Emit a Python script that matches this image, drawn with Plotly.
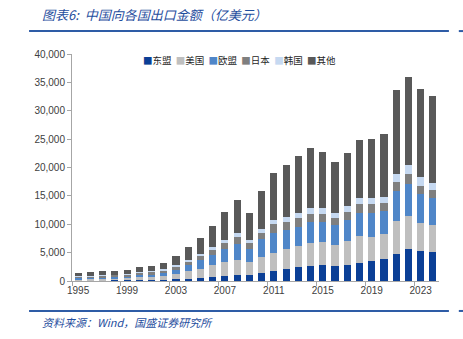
import plotly.graph_objects as go

# 中国向各国出口金额（亿美元）
years = list(range(1995, 2025))
asean = [104, 103, 127, 110, 122, 173, 184, 236, 309, 429, 554, 713, 941, 1143, 1063,
         1382, 1701, 2043, 2441, 2720, 2774, 2560, 2791, 3192, 3594, 3837, 4836, 5673, 5237, 5140]
usa = [247, 267, 327, 380, 419, 521, 543, 699, 925, 1250, 1629, 2035, 2327, 2523, 2208,
       2833, 3245, 3518, 3684, 3961, 4092, 3852, 4297, 4784, 4187, 4518, 5761, 5818, 5003, 4800]
eu = [191, 199, 238, 281, 302, 382, 410, 482, 721, 1072, 1437, 1820, 2452, 2929, 2363,
      3112, 3560, 3340, 3390, 3709, 3559, 3390, 3720, 4086, 4278, 3910, 5181, 5620, 5010, 4750]
japan = [285, 309, 318, 297, 324, 417, 450, 484, 594, 735, 840, 916, 1021, 1161, 979,
         1211, 1483, 1516, 1503, 1494, 1357, 1292, 1373, 1470, 1433, 1426, 1658, 1729, 1575, 1270]
korea = [67, 75, 91, 63, 78, 113, 125, 155, 201, 278, 351, 446, 561, 740, 537,
         688, 829, 877, 912, 1003, 1013, 937, 1028, 1088, 1110, 1125, 1488, 1626, 1490, 1280]
others = [594, 558, 727, 706, 704, 886, 949, 1200, 1632, 2169, 2809, 3760, 4878, 5811, 4866,
          6552, 8166, 9193, 10160, 10536, 9940, 8945, 9424, 10247, 10388, 11084, 14716, 15470, 15485, 15360]

series_names = ["东盟", "美国", "欧盟", "日本", "韩国", "其他"]
series_values = [asean, usa, eu, japan, korea, others]
series_colors = ["#0B3F96", "#BFBFBF", "#4F86C8", "#7F7F7F", "#C6D9F1", "#595959"]

x_tick_years = [1995, 1999, 2003, 2007, 2011, 2015, 2019, 2023]
y_tick_vals = [0, 5000, 10000, 15000, 20000, 25000, 30000, 35000, 40000]

BLUE = "#1F4E9E"
LINE_BLUE = "#2E5CA6"
TEXT = "#404040"
AXIS = "#A6A6A6"
CJK = "Noto Sans CJK SC"
LATIN = "Liberation Sans, Arial, sans-serif"

fig = go.Figure()
for name, vals, col in zip(series_names, series_values, series_colors):
    fig.add_trace(go.Bar(
        x=years, y=vals, name=name,
        marker=dict(color=col, line=dict(width=0)),
        width=0.58, showlegend=False,
        hovertemplate="%{x} " + name + ": %{y:,}<extra></extra>",
    ))

# legend drawn as one line of coloured squares + names
legend_text = "  ".join(
    f"<span style='color:{c}'>■</span>{n}" for n, c in zip(series_names, series_colors)
)

fig.update_layout(
    width=463, height=339,
    barmode="stack",
    paper_bgcolor="white", plot_bgcolor="white",
    margin=dict(l=72, r=24, t=54, b=58),
    font=dict(family=LATIN, size=10, color=TEXT),
    xaxis=dict(
        range=[1994.5, 2024.5],
        tickmode="array", tickvals=x_tick_years,
        ticks="", showgrid=False,
        showline=True, linecolor=AXIS, linewidth=1,
        tickfont=dict(size=10, color=TEXT, family=LATIN),
        minor=dict(tick0=1994.5, dtick=4, ticks="outside", ticklen=4,
                   tickcolor=AXIS, tickwidth=1, showgrid=False),
        zeroline=False,
    ),
    yaxis=dict(
        range=[0, 40000],
        tickmode="array", tickvals=y_tick_vals, tickformat=",d",
        ticks="outside", ticklen=4, tickcolor=AXIS,
        showgrid=False, zeroline=False,
        showline=True, linecolor=AXIS, linewidth=1,
        tickfont=dict(size=10, color=TEXT, family=LATIN),
    ),
    annotations=[
        dict(text="<i>图表6:  中国向各国出口金额（亿美元）</i>", xref="paper", yref="paper",
             x=-0.087, y=1.172, xanchor="left", yanchor="middle", showarrow=False,
             font=dict(family=CJK, size=13, color=BLUE)),
        dict(text="<i>资料来源：Wind，国盛证券研究所</i>", xref="paper", yref="paper",
             x=-0.087, y=-0.181, xanchor="left", yanchor="middle", showarrow=False,
             font=dict(family=CJK, size=11, color=BLUE)),
        dict(text=legend_text, xref="paper", yref="paper",
             x=0.457, y=0.974, xanchor="center", yanchor="middle", showarrow=False,
             font=dict(family=CJK, size=9.5, color="#262626")),
    ],
    shapes=[
        dict(type="line", xref="paper", yref="paper", x0=-0.117, x1=1.027, y0=1.101, y1=1.101,
             line=dict(color=LINE_BLUE, width=2)),
        dict(type="line", xref="paper", yref="paper", x0=1.054, x1=1.075, y0=1.101, y1=1.101,
             line=dict(color=LINE_BLUE, width=2)),
        dict(type="line", xref="paper", yref="paper", x0=-0.117, x1=1.027, y0=-0.132, y1=-0.132,
             line=dict(color=LINE_BLUE, width=2)),
        dict(type="line", xref="paper", yref="paper", x0=1.054, x1=1.075, y0=-0.132, y1=-0.132,
             line=dict(color=LINE_BLUE, width=2)),
    ],
)

fig.write_html("out.html")
